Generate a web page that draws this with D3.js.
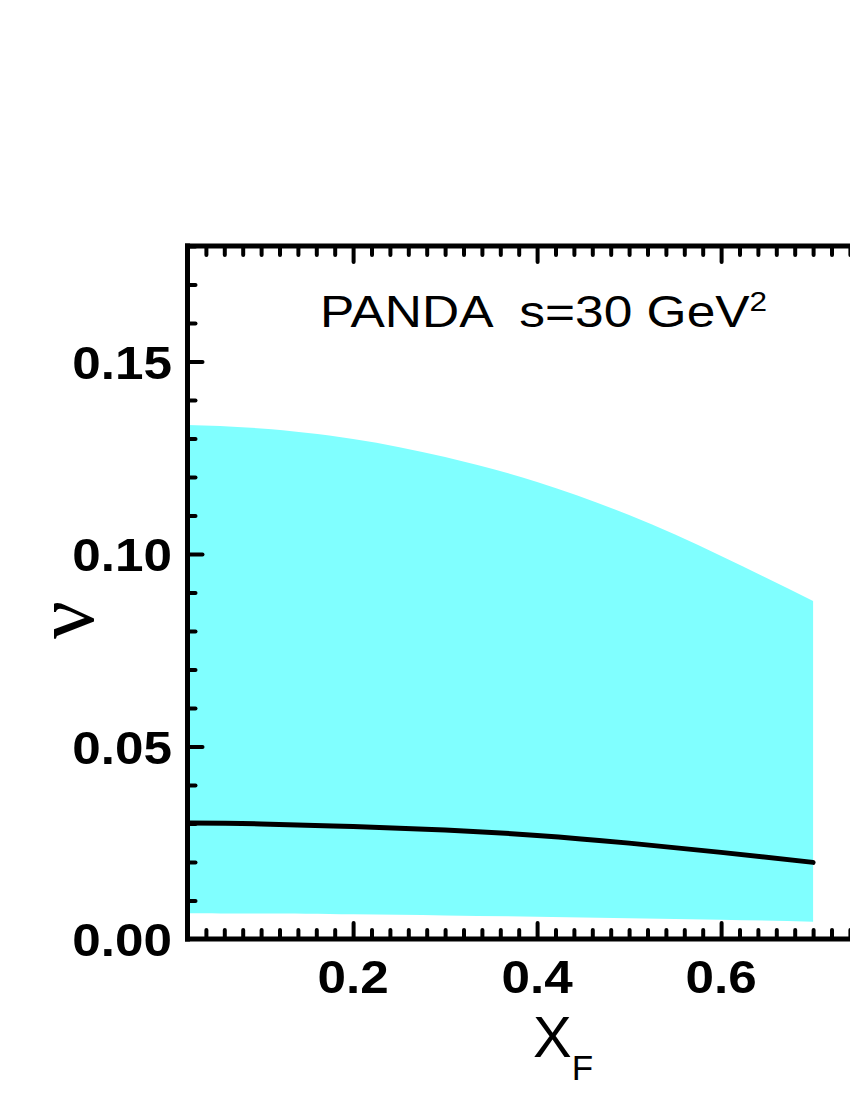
<!DOCTYPE html>
<html>
<head>
<meta charset="utf-8">
<script src="https://cdn.jsdelivr.net/npm/d3@7"></script>
<style>
  html, body { margin: 0; padding: 0; background: #fff; }
  svg { display: block; }
  text { white-space: pre; }
</style>
</head>
<body>
<svg id="chart" width="850" height="1100"></svg>
<script>
// ---- data ----
const xfValues    = [0.02, 0.1, 0.2, 0.3, 0.4, 0.5, 0.6, 0.7];
const bandUpper   = [0.1335, 0.1326, 0.1299, 0.1252, 0.1187, 0.1101, 0.0995, 0.0878];
const bandLower   = [0.0067, 0.0066, 0.0064, 0.0061, 0.0058, 0.0054, 0.0050, 0.0045];
const centralLine = [0.0301, 0.0299, 0.0292, 0.0283, 0.0269, 0.0249, 0.0225, 0.0199];
const xTickLabels = [0.2, 0.4, 0.6];
const yTickLabels = [0.00, 0.05, 0.10, 0.15];
const xDomain = [0.02, 0.76];
const yDomain = [0, 0.18];

(function () {
const svg = d3.select("#chart");
const mLeft = 187.5, mTop = 246, mBottom = 939;
const x = d3.scaleLinear().domain(xDomain).range([mLeft, mLeft + (xDomain[1]-xDomain[0]) * 920]);
const y = d3.scaleLinear().domain(yDomain).range([mBottom, mTop]);

const rows = xfValues.map((v, i) => ({x: v, lo: bandLower[i], hi: bandUpper[i], c: centralLine[i]}));

// band
svg.append("path")
  .datum(rows)
  .attr("fill", "#80ffff")
  .attr("d", d3.area().x(d => x(d.x)).y0(d => y(d.lo)).y1(d => y(d.hi)).curve(d3.curveNatural));

// central line
svg.append("path")
  .datum(rows)
  .attr("fill", "none")
  .attr("stroke", "#000")
  .attr("stroke-width", 5)
  .attr("stroke-linecap", "round")
  .attr("d", d3.line().x(d => x(d.x)).y(d => y(d.c)).curve(d3.curveNatural));

// ticks
const minorX = d3.range(0.04, xDomain[1] + 1e-9, 0.02).map(v => +v.toFixed(2));
const minorY = d3.range(0.01, yDomain[1] + 1e-9, 0.01).map(v => +v.toFixed(2));
const isMajorX = v => Math.abs(v / 0.2 - Math.round(v / 0.2)) < 1e-6;
const isMajorY = v => Math.abs(v / 0.05 - Math.round(v / 0.05)) < 1e-6;

function styleAxis(g) {
  g.select(".domain").remove();
  g.selectAll(".tick line").attr("stroke", "#000").attr("stroke-width", 4).attr("stroke-linecap", "round");
}

// bottom axis (ticks inward)
const gB = svg.append("g").attr("transform", `translate(0,${mBottom})`)
  .call(d3.axisTop(x).tickValues(minorX).tickSize(0).tickFormat(""));
styleAxis(gB);
gB.selectAll(".tick line").attr("y2", d => isMajorX(d) ? -16 : -9);

// top axis (ticks inward)
const gT = svg.append("g").attr("transform", `translate(0,${mTop})`)
  .call(d3.axisBottom(x).tickValues(minorX).tickSize(0).tickFormat(""));
styleAxis(gT);
gT.selectAll(".tick line").attr("y2", d => isMajorX(d) ? 16 : 9);

// left axis (ticks inward)
const gL = svg.append("g").attr("transform", `translate(${mLeft},0)`)
  .call(d3.axisRight(y).tickValues(minorY).tickSize(0).tickFormat(""));
styleAxis(gL);
gL.selectAll(".tick line").attr("x2", d => isMajorY(d) ? 15 : 8);

// frame lines
svg.append("line").attr("x1", mLeft).attr("x2", mLeft).attr("y1", mTop - 2.5).attr("y2", mBottom + 2.5)
  .attr("stroke", "#000").attr("stroke-width", 5);
svg.append("line").attr("x1", mLeft - 2.5).attr("x2", 850).attr("y1", mBottom).attr("y2", mBottom)
  .attr("stroke", "#000").attr("stroke-width", 5);
svg.append("line").attr("x1", mLeft - 2.5).attr("x2", 850).attr("y1", mTop).attr("y2", mTop)
  .attr("stroke", "#000").attr("stroke-width", 5);

// tick labels (the reference glyphs are slightly wider than Arial)
const labelFont = "'Liberation Sans', Arial, sans-serif";
svg.append("g").selectAll("text").data(xTickLabels).join("text")
  .attr("transform", d => `translate(${x(d)},993) scale(1.09,1)`)
  .attr("text-anchor", "middle")
  .attr("font-family", labelFont).attr("font-weight", "bold").attr("font-size", 47)
  .text(d => d3.format(".1f")(d));

svg.append("g").selectAll("text").data(yTickLabels).join("text")
  .attr("transform", d => `translate(172,${y(d) + 17}) scale(1.09,1)`)
  .attr("text-anchor", "end")
  .attr("font-family", labelFont).attr("font-weight", "bold").attr("font-size", 47)
  .text(d => d3.format(".2f")(d));

// axis titles
const xt = svg.append("text").attr("x", 533).attr("y", 1057)
  .attr("font-family", labelFont).attr("font-size", 58);
xt.append("tspan").text("X");
xt.append("tspan").attr("font-size", 35).attr("dy", 23).text("F");

svg.append("text")
  .attr("transform", "translate(93,620) rotate(-90)")
  .attr("text-anchor", "middle")
  .attr("font-family", "'Liberation Serif', 'Times New Roman', serif")
  .attr("font-size", 84)
  .text("ν");

// annotation
const ann = svg.append("text")
  .attr("transform", "translate(320,327) scale(1.17,1)")
  .attr("font-family", labelFont).attr("font-size", 44);
ann.append("tspan").text("PANDA  s=30 GeV");
ann.append("tspan").attr("font-size", 27).attr("dy", -16).text("2");
})();
</script>
</body>
</html>
